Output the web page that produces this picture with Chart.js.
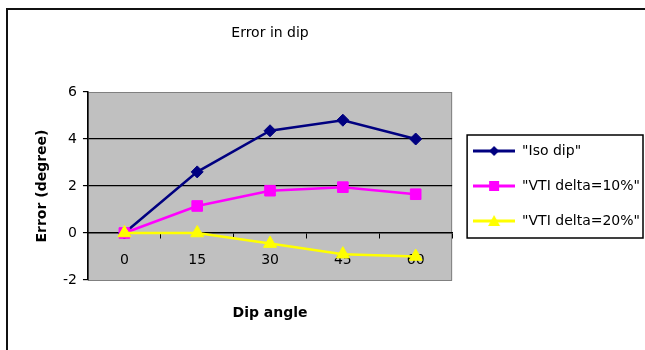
<!DOCTYPE html>
<html>
<head>
<meta charset="utf-8">
<script src="https://cdn.jsdelivr.net/npm/chart.js@4/dist/chart.umd.min.js"></script>
<style>
  body { margin: 0; background: #fff; }
  #frame { position: absolute; left: 6px; top: 8px; width: 700px; height: 400px; border: 2px solid #111; }
  #dipChart { position: absolute; left: 0; top: 0; }
</style>
</head>
<body>
<div id="frame"></div>
<canvas id="dipChart" width="645" height="350"></canvas>
<script>
const dipAngles = ['0', '15', '30', '45', '60'];
const isoDip = [0, 2.6, 4.35, 4.8, 4.0];
const vtiDelta10 = [0, 1.15, 1.8, 1.95, 1.65];
const vtiDelta20 = [0, 0, -0.45, -0.9, -1.0];
const seriesNames = ['"Iso dip"', '"VTI delta=10%"', '"VTI delta=20%"'];
const errorTicks = [-2, 0, 2, 4, 6];

const FONT = 'DejaVu Sans';

// little line + marker picture for each legend entry
function legendIcon(color, shape) {
  const c = document.createElement('canvas');
  c.width = 42; c.height = 16;
  const g = c.getContext('2d');
  g.strokeStyle = color; g.fillStyle = color; g.lineWidth = 3;
  g.beginPath(); g.moveTo(0, 8); g.lineTo(42, 8); g.stroke();
  g.beginPath();
  if (shape === 'diamond') {
    g.moveTo(21, 3); g.lineTo(26, 8); g.lineTo(21, 13); g.lineTo(16, 8);
  } else if (shape === 'square') {
    g.rect(16, 3, 10, 10);
  } else {
    g.moveTo(21, 2); g.lineTo(27, 13); g.lineTo(15, 13);
  }
  g.closePath(); g.fill();
  return c;
}

const icons = [
  legendIcon('#000080', 'diamond'),
  legendIcon('#ff00ff', 'square'),
  legendIcon('#ffff00', 'triangle')
];

const plotBack = {
  id: 'plotBack',
  beforeDraw(chart) {
    const {ctx, chartArea: a} = chart;
    ctx.save();
    ctx.fillStyle = '#c0c0c0';
    ctx.fillRect(a.left, a.top, a.right - a.left, a.bottom - a.top);
    ctx.strokeStyle = '#808080';
    ctx.lineWidth = 1;
    ctx.strokeRect(a.left + 0.5, a.top + 0.5, a.right - a.left - 1, a.bottom - a.top);
    ctx.restore();
  }
};

const legendFrame = {
  id: 'legendFrame',
  afterDraw(chart) {
    const boxes = chart.legend.legendHitBoxes;
    if (!boxes || !boxes.length) return;
    const l = Math.min(...boxes.map(b => b.left));
    const r = Math.max(...boxes.map(b => b.left + b.width));
    const t = Math.min(...boxes.map(b => b.top));
    const b = Math.max(...boxes.map(b => b.top + b.height));
    const ctx = chart.ctx;
    ctx.save();
    ctx.strokeStyle = '#000';
    ctx.lineWidth = 1.5;
    ctx.strokeRect(l - 6, t - 9, Math.min(r + 4, 643) - (l - 6), b + 10 - (t - 9));
    ctx.restore();
  }
};

new Chart(document.getElementById('dipChart'), {
  type: 'line',
  data: {
    labels: dipAngles,
    datasets: [
      {
        label: seriesNames[0], data: isoDip, order: 3,
        borderColor: '#000080', backgroundColor: '#000080', borderWidth: 2.5,
        pointStyle: 'rectRot', pointRadius: 6, pointBorderWidth: 1
      },
      {
        label: seriesNames[1], data: vtiDelta10, order: 2,
        borderColor: '#ff00ff', backgroundColor: '#ff00ff', borderWidth: 2.5,
        pointStyle: 'rect', pointRadius: 7.5, pointBorderWidth: 1
      },
      {
        label: seriesNames[2], data: vtiDelta20, order: 1,
        borderColor: '#ffff00', backgroundColor: '#ffff00', borderWidth: 2.5,
        pointStyle: 'triangle', pointRadius: 7.5, pointBorderWidth: 1
      }
    ]
  },
  options: {
    responsive: false,
    animation: false,
    devicePixelRatio: 1,
    layout: { padding: { left: 10, top: 10, right: -5, bottom: 0 } },
    font: { family: FONT },
    scales: {
      x: {
        position: { y: 0 },
        offset: true,
        grid: { offset: true, drawOnChartArea: false, tickLength: 5, color: '#000', lineWidth: 1 },
        border: { color: '#000', width: 1.5 },
        ticks: { color: '#000', padding: 14, font: { family: FONT, size: 14 } }
      },
      xTop: {
        type: 'category', position: 'top', labels: dipAngles, offset: true,
        grid: { display: false, drawTicks: false }, border: { display: false },
        ticks: { display: false },
        title: { display: true, text: 'Error in dip', color: '#000',
                 font: { family: FONT, size: 14 }, padding: { top: 14.6, bottom: 50.6 } }
      },
      xBottom: {
        type: 'category', position: 'bottom', labels: dipAngles, offset: true,
        grid: { display: false, drawTicks: false }, border: { display: false },
        ticks: { display: false },
        title: { display: true, text: 'Dip angle', color: '#000',
                 font: { family: FONT, size: 14, weight: 'bold' }, padding: { top: 24.6, bottom: 28.6 } }
      },
      y: {
        min: errorTicks[0],
        max: errorTicks[errorTicks.length - 1],
        ticks: { stepSize: 2, color: '#000', padding: 6, font: { family: FONT, size: 14 } },
        grid: {
          tickLength: 5, tickColor: '#000', lineWidth: 1.2,
          color: c => (c.tick && (c.tick.value === 2 || c.tick.value === 4)) ? '#000' : 'transparent'
        },
        border: { color: '#000', width: 1.5 },
        title: { display: true, text: 'Error (degree)', color: '#000',
                 font: { family: FONT, size: 14, weight: 'bold' }, padding: { top: 23.6, bottom: 6.6 } }
      }
    },
    plugins: {
      title: { display: false },
      tooltip: { enabled: false },
      legend: {
        position: 'right',
        fullSize: false,
        align: 'center',
        maxWidth: 400,
        labels: {
          usePointStyle: true,
          pointStyleWidth: 42,
          padding: 21,
          color: '#000',
          font: { family: FONT, size: 14 },
          generateLabels: () => seriesNames.map((name, i) => ({
            text: name, pointStyle: icons[i], datasetIndex: i, hidden: false,
            fontColor: '#000', lineWidth: 0, strokeStyle: 'transparent', fillStyle: 'transparent'
          }))
        }
      }
    }
  },
  plugins: [plotBack, legendFrame]
});
</script>
</body>
</html>
